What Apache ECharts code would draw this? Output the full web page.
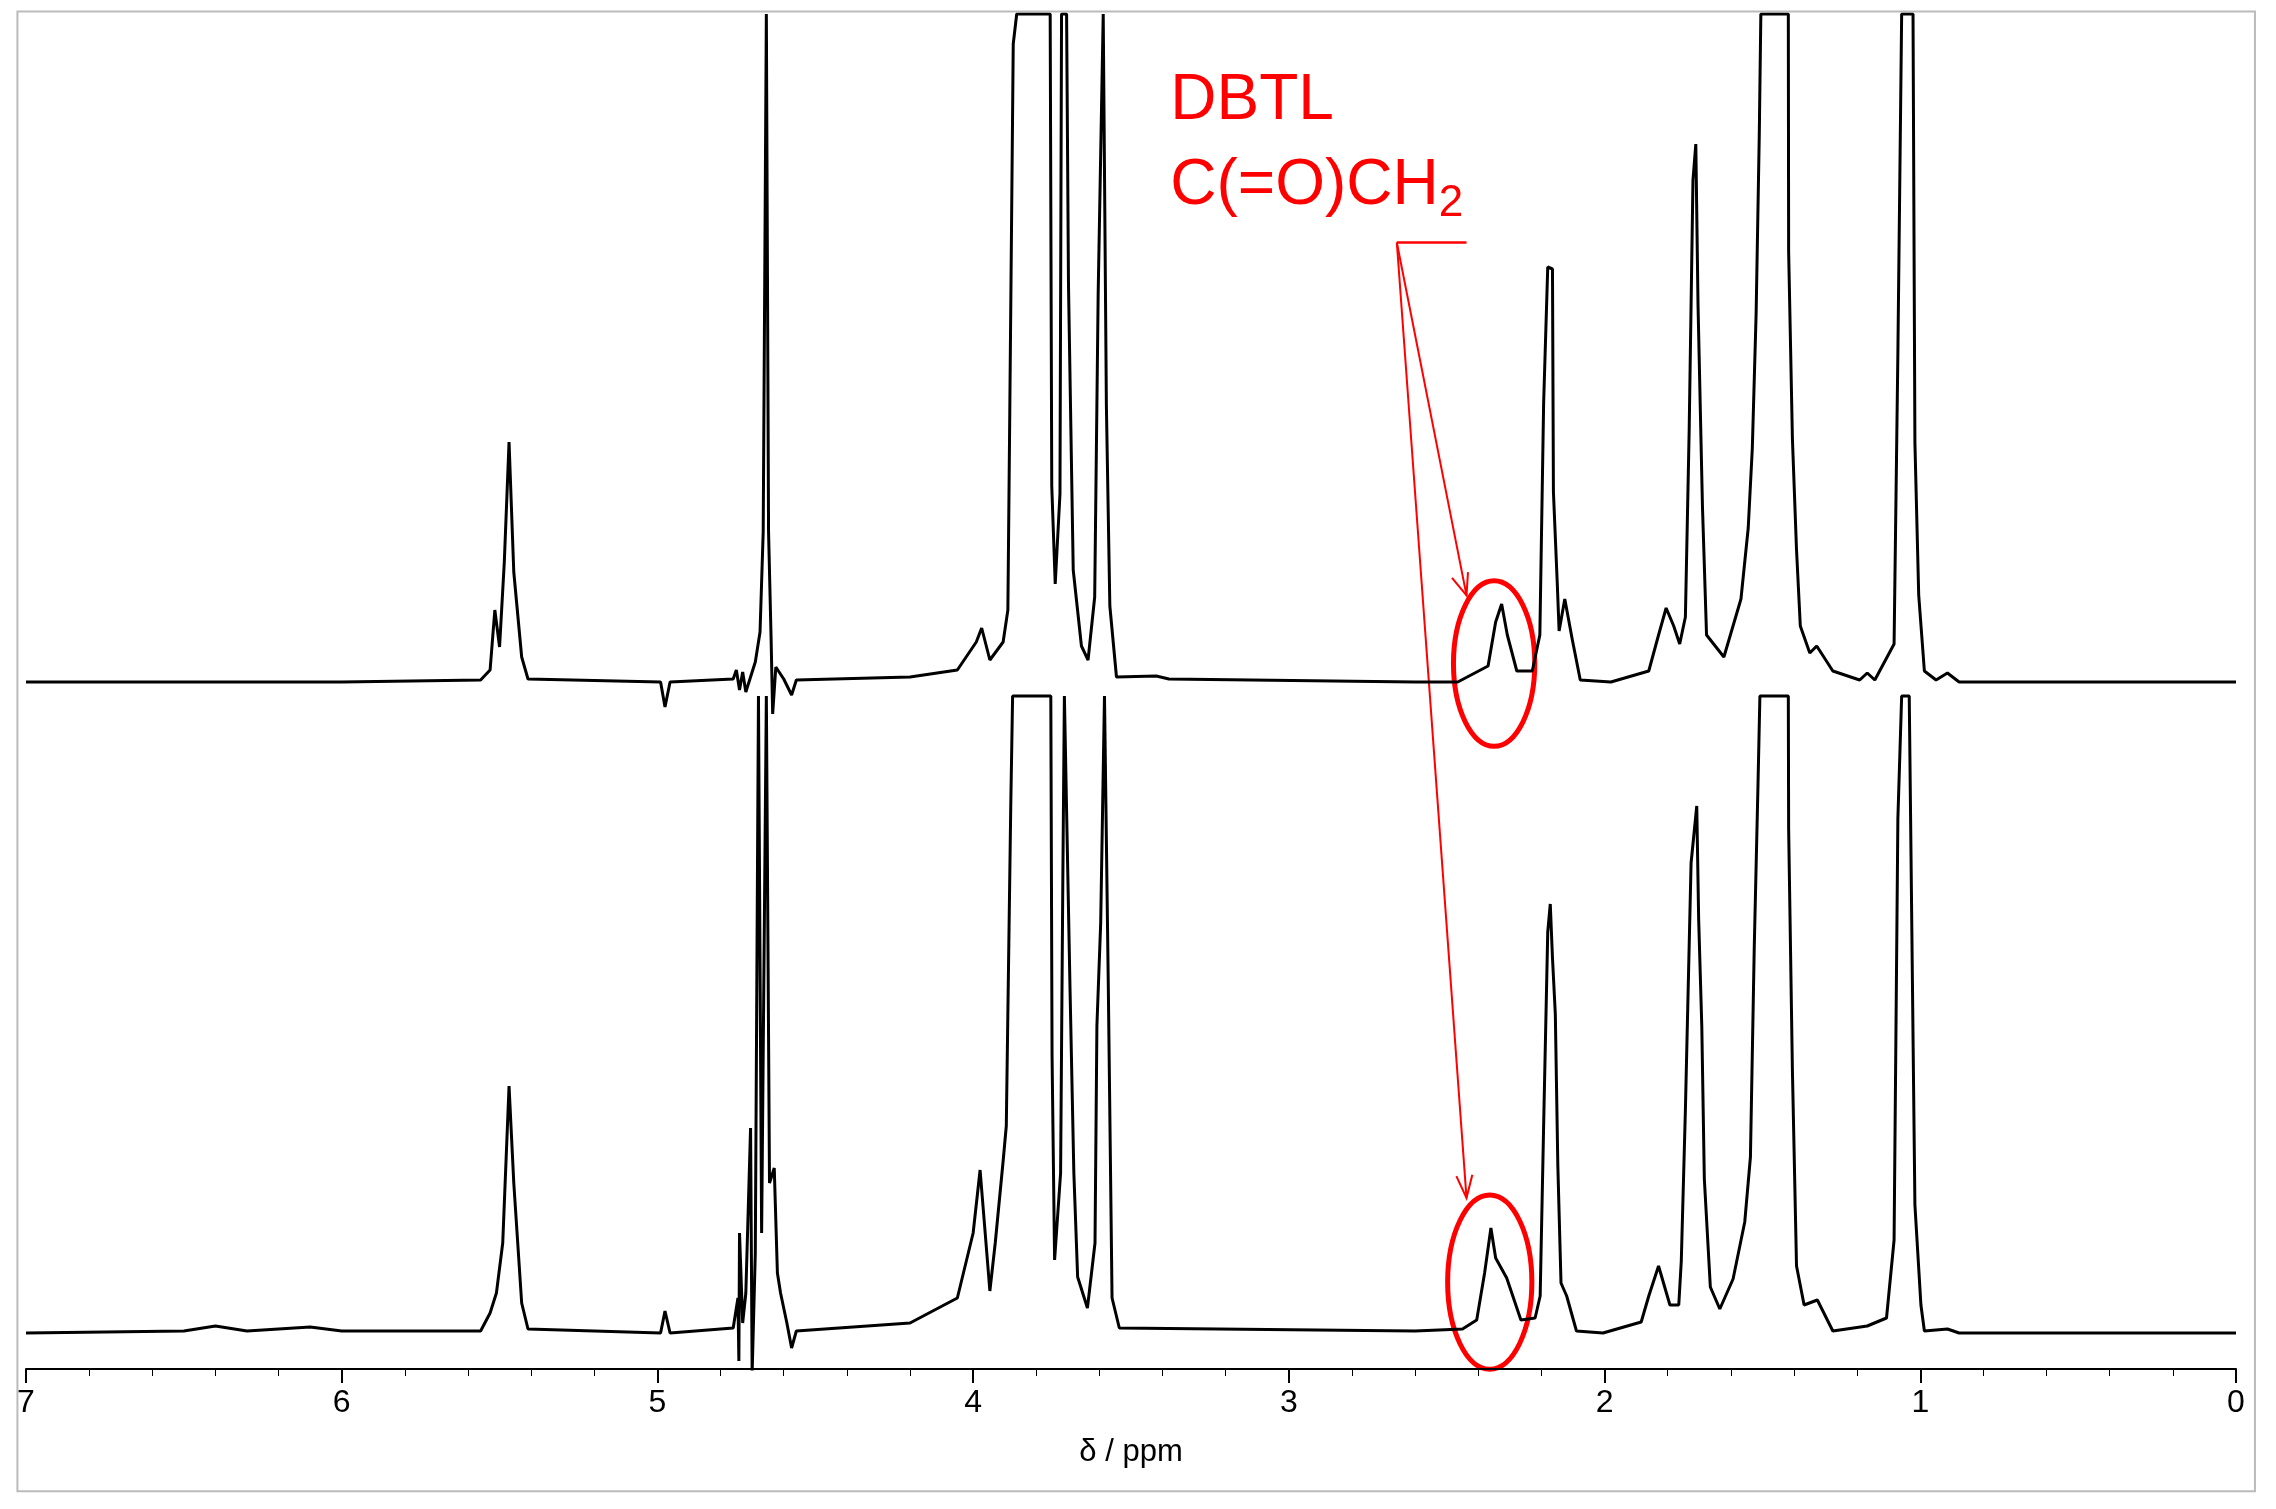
<!DOCTYPE html>
<html>
<head>
<meta charset="utf-8">
<title>NMR</title>
<script src="https://cdn.jsdelivr.net/npm/echarts@6/dist/echarts.min.js"></script>
<style>
  body{margin:0;background:#fff;}
  #main{width:2276px;height:1509px;}
</style>
</head>
<body>
<div id="main"></div>
<script>
// [ppm, intensity above baseline]
var topSpectrum = [[7.0,0],[6.0,0],[5.56,2],[5.53,12],[5.515,72],[5.50,35],[5.485,120],[5.47,240],[5.455,110],[5.43,25],[5.41,3],
  [4.99,0],[4.976,-25],[4.96,0],[4.76,3],[4.75,12],[4.74,-8],[4.73,10],[4.72,-10],[4.69,20],[4.675,50],[4.665,150],[4.655,668],[4.648,150],[4.64,44],[4.635,-32],[4.625,15],[4.6,3],[4.575,-13],[4.56,2],
  [4.2,5],[4.05,12],[3.99,40],[3.973,54],[3.947,22],[3.905,40],[3.89,72],[3.884,268],[3.873,638],[3.862,668],[3.756,668],[3.751,196],[3.74,98],[3.725,188],[3.72,668],[3.704,668],[3.698,397],[3.683,112],[3.657,36],[3.636,22],[3.615,85],[3.604,388],[3.588,668],[3.583,668],[3.578,277],[3.567,76],[3.546,5],[3.42,6],[3.38,3],
  [2.6,0],[2.465,0],[2.369,16],[2.345,60],[2.326,78],[2.308,47],[2.278,11],[2.229,11],[2.205,47],[2.193,279],[2.18,415],[2.165,413],[2.162,190],[2.15,100],[2.144,51],[2.126,83],[2.102,42],[2.077,2],[1.98,0],
  [1.86,11],[1.829,47],[1.805,74],[1.781,56],[1.762,38],[1.744,65],[1.732,252],[1.72,502],[1.711,538],[1.704,377],[1.69,176],[1.677,47],[1.622,25],[1.568,83],[1.545,154],[1.532,234],[1.52,368],[1.51,547],[1.505,668],
  [1.418,668],[1.417,431],[1.405,243],[1.392,132],[1.38,56],[1.35,29],[1.328,36],[1.277,11],[1.192,2],[1.168,9],[1.144,2],[1.083,38],[1.071,328],[1.059,668],[1.023,668],[1.017,239],[1.005,87],[0.987,11],[0.95,2],[0.914,9],[0.877,0],[0,0]];
var bottomSpectrum = [[7.0,0],[6.5,2],[6.4,7],[6.3,2],[6.1,6],[6.0,2],[5.56,2],[5.53,20],[5.51,40],[5.49,90],[5.47,247],[5.455,150],[5.43,30],[5.41,4],
  [4.99,0],[4.976,22],[4.96,0],[4.76,5],[4.745,35],[4.742,-28],[4.74,100],[4.73,10],[4.72,40],[4.705,205],[4.70,-40],[4.69,80],[4.68,637],[4.67,100],[4.655,637],[4.645,150],[4.63,165],[4.62,60],[4.61,40],[4.59,10],[4.575,-15],[4.56,2],
  [4.2,10],[4.05,35],[4.0,100],[3.978,163],[3.947,42],[3.93,90],[3.905,172],[3.895,207],[3.881,524],[3.875,637],[3.754,637],[3.75,276],[3.742,73],[3.723,160],[3.716,450],[3.711,637],[3.705,637],[3.693,342],[3.681,160],[3.669,56],[3.638,25],[3.614,90],[3.608,307],[3.596,410],[3.584,637],[3.578,637],[3.572,350],[3.56,35],[3.537,5],
  [2.6,2],[2.45,4],[2.405,13],[2.38,60],[2.36,105],[2.345,75],[2.31,55],[2.265,13],[2.22,15],[2.204,37],[2.192,223],[2.18,401],[2.172,429],[2.165,375],[2.156,319],[2.148,167],[2.138,50],[2.12,37],[2.089,2],[2.005,0],
  [1.884,11],[1.86,37],[1.829,67],[1.793,28],[1.765,28],[1.757,72],[1.744,223],[1.726,470],[1.708,527],[1.702,414],[1.692,306],[1.684,154],[1.665,46],[1.635,24],[1.593,54],[1.556,111],[1.538,176],[1.526,384],[1.514,549],[1.508,637],
  [1.418,637],[1.417,505],[1.405,262],[1.392,67],[1.368,28],[1.326,33],[1.277,2],[1.168,7],[1.107,15],[1.083,93],[1.071,514],[1.059,637],[1.035,637],[1.017,128],[0.998,28],[0.987,2],[0.914,4],[0.877,0],[0,0]];
var xTickLabels = ['0','1','2','3','4','5','6','7'];
var topOffset = 687, topClip = 668;
var bottomOffset = 36, bottomClip = 637;

function shift(data, off, clip) {
    return data.map(function (p) { return [p[0], off + Math.min(p[1], clip)]; });
}
var S = 1.452; // picture scale
var red = '#ff0000';

var myChart = echarts.init(document.getElementById('main'));
var option = {
    animation: false,
    backgroundColor: '#fff',
    grid: {left: 26, right: 40, top: 14, bottom: 140},
    xAxis: {
        type: 'value', inverse: true, min: 0, max: 7, interval: 1,
        name: 'δ / ppm', nameLocation: 'middle', nameGap: 68,
        nameTextStyle: {fontSize: 31, color: '#000', fontFamily: 'Liberation Sans'},
        axisLine: {lineStyle: {color: '#000', width: 2}},
        axisTick: {length: 14, lineStyle: {color: '#000', width: 2}},
        minorTick: {show: true, splitNumber: 5, length: 7, lineStyle: {color: '#000'}},
        axisLabel: {fontSize: 32, color: '#000', margin: 18, fontFamily: 'Liberation Sans',
            formatter: function (v) { return xTickLabels[Math.round(v)]; }},
        splitLine: {show: false}
    },
    yAxis: {type: 'value', min: 0, max: 1355, show: false},
    series: [
        {type: 'line', data: shift(topSpectrum, topOffset, topClip), showSymbol: false,
         lineStyle: {color: '#000', width: 3}, clip: true},
        {type: 'line', data: shift(bottomSpectrum, bottomOffset, bottomClip), showSymbol: false,
         lineStyle: {color: '#000', width: 3}, clip: true}
    ],
    graphic: [
        {type: 'rect', shape: {x: 12 * S, y: 8 * S, width: 1541 * S, height: 1019 * S},
         style: {fill: 'none', stroke: '#bbb', lineWidth: 2}},
        {type: 'text', left: 806 * S, top: 48 * S,
         style: {text: 'DBTL', fill: red, font: '64px "Liberation Sans"'}},
        {type: 'text', left: 806 * S, top: 106 * S,
         style: {text: '{a|C(=O)CH}{b|2}', fill: red,
             rich: {a: {fontSize: 64, fill: red, fontFamily: 'Liberation Sans'},
                    b: {fontSize: 44, fill: red, fontFamily: 'Liberation Sans', padding: [36, 0, 0, 0]}}}},
        {type: 'line', shape: {x1: 962 * S, y1: 167 * S, x2: 1010 * S, y2: 167 * S},
         style: {stroke: red, lineWidth: 2.5}},
        {type: 'line', shape: {x1: 962 * S, y1: 167 * S, x2: 1010 * S, y2: 410 * S},
         style: {stroke: red, lineWidth: 2}},
        {type: 'polyline', shape: {points: [[1000 * S, 398 * S], [1010 * S, 410 * S], [1011 * S, 394 * S]]},
         style: {stroke: red, fill: 'none', lineWidth: 2}},
        {type: 'line', shape: {x1: 962 * S, y1: 167 * S, x2: 1010 * S, y2: 825 * S},
         style: {stroke: red, lineWidth: 2}},
        {type: 'polyline', shape: {points: [[1003 * S, 810 * S], [1010 * S, 825 * S], [1014 * S, 809 * S]]},
         style: {stroke: red, fill: 'none', lineWidth: 2}},
        {type: 'ellipse', shape: {cx: 1029 * S, cy: 457 * S, rx: 28 * S, ry: 57 * S},
         style: {stroke: red, fill: 'none', lineWidth: 5}},
        {type: 'ellipse', shape: {cx: 1026 * S, cy: 883 * S, rx: 29 * S, ry: 60 * S},
         style: {stroke: red, fill: 'none', lineWidth: 5}}
    ]
};
myChart.setOption(option);
</script>
</body>
</html>
